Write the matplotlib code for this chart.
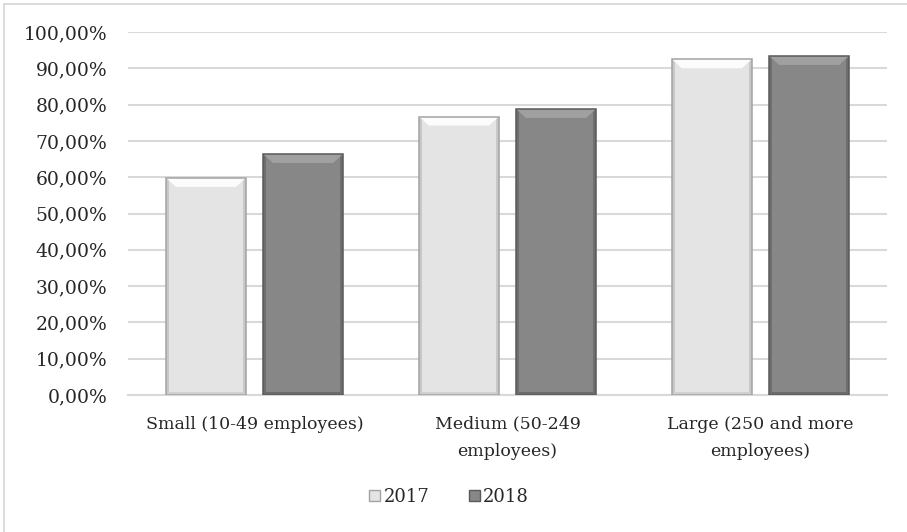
import matplotlib
matplotlib.use("Agg")
import matplotlib.pyplot as plt
from matplotlib.patches import Polygon, Rectangle
from matplotlib.lines import Line2D
from matplotlib.ticker import FuncFormatter

categories = ["Small (10-49 employees)", "Medium (50-249\nemployees)", "Large (250 and more\nemployees)"]
series_names = ["2017", "2018"]
values_2017 = [59.8, 76.7, 92.5]
values_2018 = [66.4, 78.8, 93.4]
y_ticks = [0, 10, 20, 30, 40, 50, 60, 70, 80, 90, 100]

plt.rcParams["font.family"] = ["DejaVu Serif"]
TEXT = "#262626"
GRID = "#D9D9D9"

W, H, DPI = 907, 532, 100
fig = plt.figure(figsize=(W / DPI, H / DPI), dpi=DPI)
fig.patch.set_facecolor("white")

# chart-area frame: left and top edges
fig.add_artist(Line2D([4 / W, 4 / W], [0, 1 - 4 / H], transform=fig.transFigure,
                      color=GRID, linewidth=1.3))
fig.add_artist(Line2D([4 / W, 1], [1 - 4 / H, 1 - 4 / H], transform=fig.transFigure,
                      color=GRID, linewidth=1.3))

ax_l, ax_b, ax_w, ax_h = 128 / W, 137 / H, 759 / W, 363 / H
ax = fig.add_axes([ax_l, ax_b, ax_w, ax_h])
ax.set_xlim(-0.5, 2.5)
ax.set_ylim(0, 100)

for s in ["left", "right", "top"]:
    ax.spines[s].set_visible(False)
ax.spines["bottom"].set_color(GRID)
ax.spines["bottom"].set_linewidth(1.5)
ax.set_yticks(y_ticks)
ax.yaxis.set_major_formatter(FuncFormatter(lambda v, p: f"{v:.2f}%".replace(".", ",")))
ax.grid(axis="y", color=GRID, linewidth=1.5)
ax.set_axisbelow(True)
ax.tick_params(axis="both", length=0, labelsize=12.5, colors=TEXT)
ax.tick_params(axis="y", pad=15, labelsize=13.5)
ax.tick_params(axis="x", pad=15)

x = list(range(len(categories)))
bw = 0.316
off = 0.192
styles = [
    dict(face="#E4E4E4", edge="#A3A3A3", top="#FCFCFC", side="#C8C8C8", bottom="#D0D0D0"),
    dict(face="#878787", edge="#5A5A5A", top="#A0A0A0", side="#6E6E6E", bottom="#6C6C6C"),
]

# pixel-to-data scale for the bevel shading
px_x = (ax_w * W) / 3.0
px_y = (ax_h * H) / 100.0

def bevel(bars, st):
    for r in bars:
        x0, w, h = r.get_x(), r.get_width(), r.get_height()
        x1 = x0 + w
        sx, sy = 3 / px_x, 3 / px_y
        tx, ty = 10 / px_x, 9 / px_y
        # side and bottom strips
        ax.add_patch(Rectangle((x0, 0), sx, h, facecolor=st["side"], edgecolor="none", zorder=3))
        ax.add_patch(Rectangle((x1 - sx, 0), sx, h, facecolor=st["side"], edgecolor="none", zorder=3))
        ax.add_patch(Polygon([(x0, 0), (x1, 0), (x1 - sx, sy), (x0 + sx, sy)],
                             closed=True, facecolor=st["bottom"], edgecolor="none", zorder=3))
        # top bevel
        ax.add_patch(Polygon([(x0, h), (x1, h), (x1 - tx, h - ty), (x0 + tx, h - ty)],
                             closed=True, facecolor=st["top"], edgecolor="none", zorder=3))
        ax.add_patch(Rectangle((x0, 0), w, h, fill=False, edgecolor=st["edge"],
                               linewidth=1.1, zorder=4))

b1 = ax.bar([i - off for i in x], values_2017, bw, color=styles[0]["face"],
            edgecolor="none", zorder=2, label=series_names[0])
b2 = ax.bar([i + off for i in x], values_2018, bw, color=styles[1]["face"],
            edgecolor="none", zorder=2, label=series_names[1])
bevel(b1, styles[0])
bevel(b2, styles[1])

ax.set_xticks(x)
ax.set_xticklabels(categories, linespacing=1.75)

h1 = Rectangle((0, 0), 1, 1, facecolor=styles[0]["face"], edgecolor=styles[0]["edge"])
h2 = Rectangle((0, 0), 1, 1, facecolor=styles[1]["face"], edgecolor=styles[1]["edge"])
leg = fig.legend([h1, h2], series_names, loc="center", bbox_to_anchor=(449 / W, 1 - 497 / H),
                 ncol=2, frameon=False, fontsize=13, handlelength=0.6, handleheight=0.6,
                 handletextpad=0.2, columnspacing=2.2)
for t in leg.get_texts():
    t.set_color(TEXT)

fig.savefig("out.png", dpi=DPI)
